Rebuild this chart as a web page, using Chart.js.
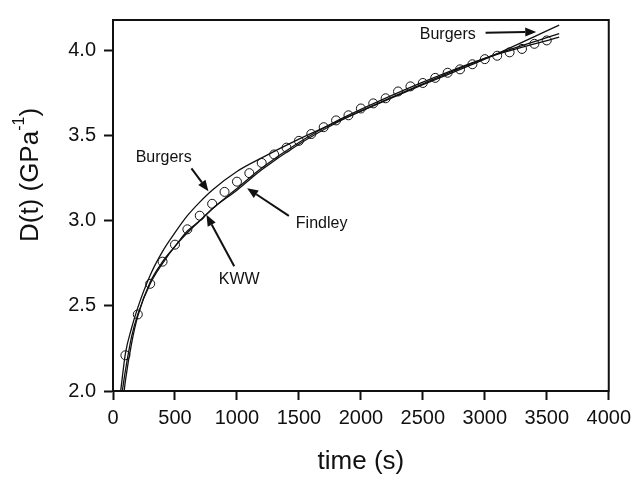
<!DOCTYPE html>
<html>
<head>
<meta charset="utf-8">
<script src="https://cdn.jsdelivr.net/npm/chart.js@4/dist/chart.umd.min.js"></script>
<style>
  html, body { margin: 0; padding: 0; background: #fff; }
  #chart { display: block; }
</style>
</head>
<body>
<canvas id="chart" width="637" height="483"></canvas>
<script>
// measured compliance (open circles)
const timePoints = [100, 200, 300, 400, 500, 600, 700, 800, 900, 1000, 1100, 1200, 1300, 1400, 1500,
    1600, 1700, 1800, 1900, 2000, 2100, 2200, 2300, 2400, 2500, 2600, 2700, 2800, 2900, 3000,
    3100, 3200, 3300, 3400, 3500];
const measured = [2.21, 2.45, 2.63, 2.76, 2.86, 2.95, 3.03, 3.10, 3.17, 3.23, 3.28, 3.34, 3.39, 3.43, 3.47,
    3.51, 3.55, 3.59, 3.62, 3.66, 3.69, 3.72, 3.76, 3.79, 3.81, 3.84, 3.87, 3.89, 3.92, 3.95,
    3.97, 3.99, 4.01, 4.04, 4.06];

// fitted curves
const burgersT = [62, 100, 150, 200, 300, 400, 500, 600, 700, 800, 1000, 1200, 1500, 1800, 2000, 2500, 3000, 3600];
const burgersD = [2.0, 2.22, 2.37, 2.49, 2.68, 2.82, 2.93, 3.03, 3.11, 3.18, 3.29, 3.37, 3.48, 3.58, 3.645, 3.80, 3.95, 4.15];
const findleyT = [75, 100, 150, 200, 300, 400, 500, 600, 700, 800, 1000, 1200, 1500, 1800, 2000, 2500, 3000, 3600];
const findleyD = [2.0, 2.12, 2.32, 2.45, 2.63, 2.75, 2.85, 2.93, 3.00, 3.07, 3.18, 3.30, 3.45, 3.575, 3.645, 3.805, 3.955, 4.10];
const kwwT = [90, 100, 150, 200, 300, 400, 500, 600, 700, 800, 1000, 1200, 1500, 1800, 2000, 2500, 3000, 3600];
const kwwD = [2.0, 2.06, 2.28, 2.44, 2.64, 2.76, 2.85, 2.94, 3.00, 3.07, 3.19, 3.31, 3.46, 3.585, 3.655, 3.815, 3.955, 4.08];

const xTicks = [0, 500, 1000, 1500, 2000, 2500, 3000, 3500, 4000];
const yTicks = [2.0, 2.5, 3.0, 3.5, 4.0];

// labels with arrows: text position, arrow start, arrow tip (data units)
const notes = [
    { text: 'Burgers', at: [409, 3.372], from: [633, 3.308], to: [770, 3.174] },
    { text: 'KWW', at: [1018, 2.657], from: [978, 2.733], to: [754, 3.035] },
    { text: 'Findley', at: [1683, 2.983], from: [1419, 3.029], to: [1082, 3.192] },
    { text: 'Burgers', at: [2701, 4.093], from: [3006, 4.105], to: [3415, 4.11] }
];

const FONT = 'Liberation Sans, Arial, Helvetica, sans-serif';

function pairs(xs, ys) {
    return xs.map((x, i) => ({ x: x, y: ys[i] }));
}

function fitLine(xs, ys) {
    return {
        data: pairs(xs, ys),
        showLine: true,
        borderColor: '#111',
        borderWidth: 1.3,
        pointRadius: 0,
        fill: false,
        cubicInterpolationMode: 'monotone'
    };
}

const decorPlugin = {
    id: 'decor',
    afterDraw(chart) {
        const ctx = chart.ctx;
        const a = chart.chartArea;
        const xs = chart.scales.x, ys = chart.scales.y;
        ctx.save();
        // frame
        ctx.strokeStyle = '#111';
        ctx.lineWidth = 2;
        ctx.strokeRect(a.left, a.top, a.right - a.left, a.bottom - a.top);

        // notes and arrows
        ctx.fillStyle = '#111';
        ctx.font = '16px ' + FONT;
        ctx.textAlign = 'center';
        ctx.textBaseline = 'middle';
        notes.forEach(n => {
            ctx.fillText(n.text, xs.getPixelForValue(n.at[0]), ys.getPixelForValue(n.at[1]));
            const x1 = xs.getPixelForValue(n.from[0]), y1 = ys.getPixelForValue(n.from[1]);
            const x2 = xs.getPixelForValue(n.to[0]), y2 = ys.getPixelForValue(n.to[1]);
            const ang = Math.atan2(y2 - y1, x2 - x1);
            const hl = 11, hw = 4.5;
            const bx = x2 - hl * Math.cos(ang), by = y2 - hl * Math.sin(ang);
            ctx.lineWidth = 2;
            ctx.beginPath();
            ctx.moveTo(x1, y1);
            ctx.lineTo(bx, by);
            ctx.stroke();
            ctx.beginPath();
            ctx.moveTo(x2, y2);
            ctx.lineTo(bx + hw * Math.sin(ang), by - hw * Math.cos(ang));
            ctx.lineTo(bx - hw * Math.sin(ang), by + hw * Math.cos(ang));
            ctx.closePath();
            ctx.fill();
        });

        // x title
        ctx.font = '26px ' + FONT;
        ctx.textAlign = 'center';
        ctx.textBaseline = 'middle';
        ctx.fillText('time (s)', (a.left + a.right) / 2, 462);

        // y title with superscript
        ctx.translate(31, 175);
        ctx.rotate(-Math.PI / 2);
        const main = 'D(t) (GPa', sup = '-1', close = ')';
        ctx.font = '26px ' + FONT;
        const w1 = ctx.measureText(main).width;
        const w3 = ctx.measureText(close).width;
        ctx.font = '16px ' + FONT;
        const w2 = ctx.measureText(sup).width;
        let x = -(w1 + w2 + w3) / 2;
        ctx.textAlign = 'left';
        ctx.textBaseline = 'middle';
        ctx.font = '26px ' + FONT;
        ctx.fillText(main, x, 0);
        x += w1;
        ctx.font = '16px ' + FONT;
        ctx.fillText(sup, x, -11);
        x += w2;
        ctx.font = '26px ' + FONT;
        ctx.fillText(close, x, 0);
        ctx.restore();
    }
};

new Chart(document.getElementById('chart').getContext('2d'), {
    type: 'scatter',
    data: {
        datasets: [
            {
                data: pairs(timePoints, measured),
                showLine: false,
                pointStyle: 'circle',
                pointRadius: 4.5,
                pointBorderWidth: 1,
                pointBorderColor: '#111',
                pointBackgroundColor: 'rgba(0,0,0,0)'
            },
            fitLine(burgersT, burgersD),
            fitLine(findleyT, findleyD),
            fitLine(kwwT, kwwD)
        ]
    },
    options: {
        responsive: false,
        animation: false,
        devicePixelRatio: 1,
        layout: { padding: { top: 16, right: 25, left: 0, bottom: 0 } },
        plugins: {
            legend: { display: false },
            tooltip: { enabled: false }
        },
        scales: {
            x: {
                type: 'linear',
                min: 0,
                max: 4000,
                afterBuildTicks: s => { s.ticks = xTicks.map(v => ({ value: v })); },
                afterFit: s => { s.height = 92; },
                ticks: {
                    color: '#111',
                    font: { family: FONT, size: 20 },
                    padding: 6,
                    maxRotation: 0,
                    callback: v => String(v)
                },
                grid: { drawOnChartArea: false, tickLength: 9, tickWidth: 2, color: '#111' },
                border: { display: true, color: '#111', width: 2 }
            },
            y: {
                min: 2.0,
                max: 4.18,
                afterBuildTicks: s => { s.ticks = yTicks.map(v => ({ value: v })); },
                afterFit: s => { s.width = 113; },
                ticks: {
                    color: '#111',
                    font: { family: FONT, size: 20 },
                    padding: 8,
                    callback: v => v.toFixed(1)
                },
                grid: { drawOnChartArea: false, tickLength: 9, tickWidth: 2, color: '#111' },
                border: { display: true, color: '#111', width: 2 }
            }
        }
    },
    plugins: [decorPlugin]
});
</script>
</body>
</html>
